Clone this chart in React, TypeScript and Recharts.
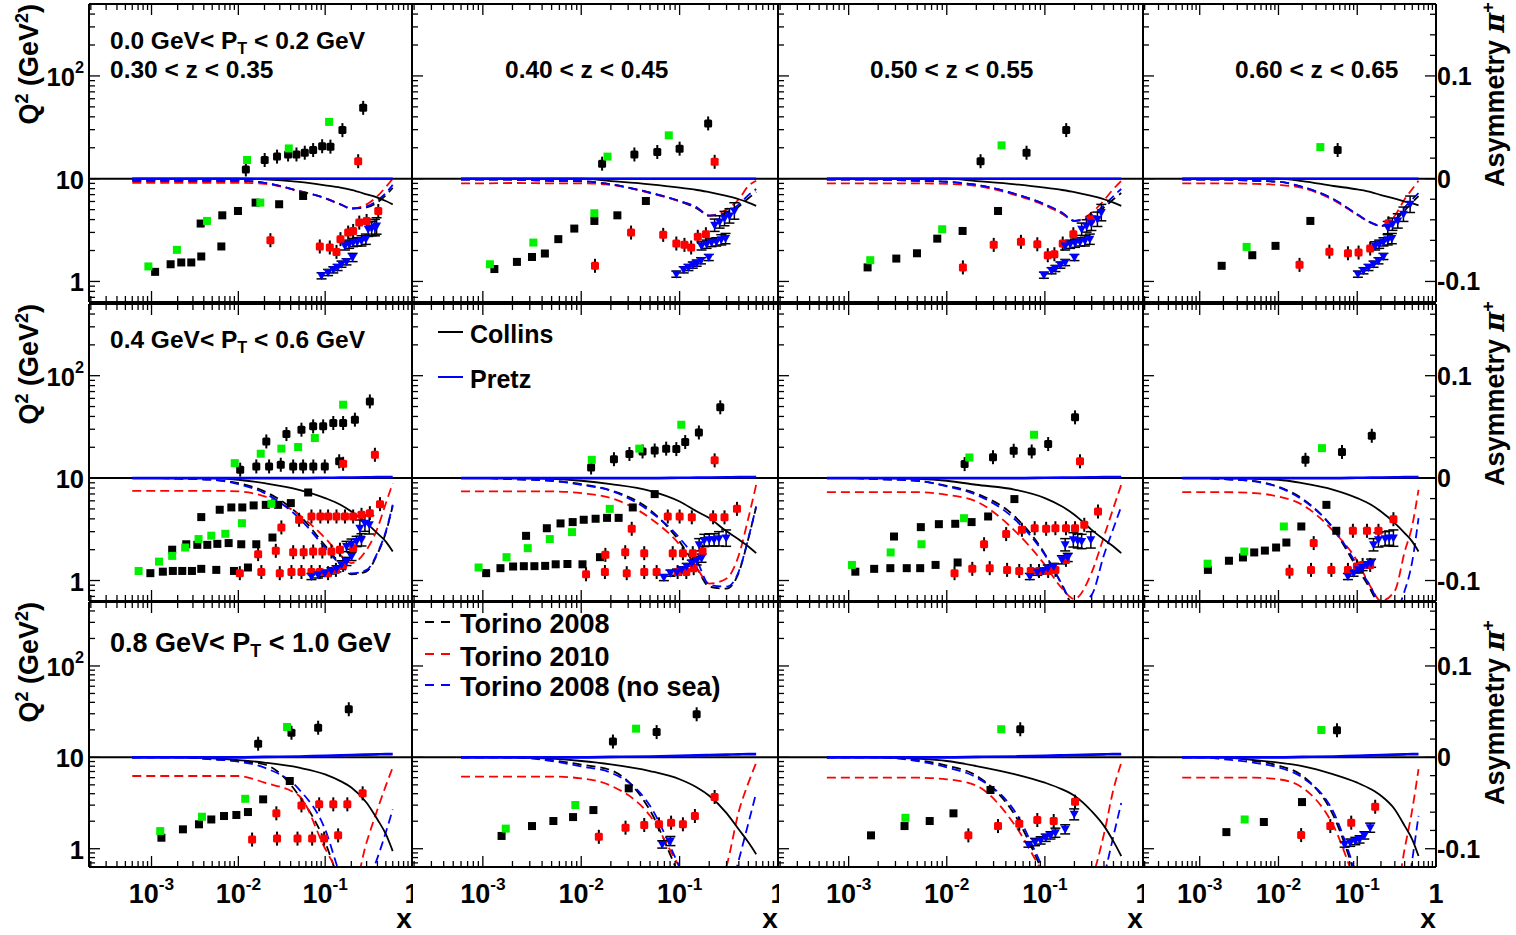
import React from "react";
import {
  ComposedChart,
  ErrorBar,
  Line,
  ReferenceLine,
  Scatter,
  XAxis,
  YAxis,
} from "recharts";

const FONT = "'Liberation Sans', Arial, Helvetica, sans-serif";

// shared ranges: log x, log Q² (left) and linear asymmetry (right) share one frame
const X_DOMAIN = [1.905e-4, 1];
const Q2_DOMAIN = [0.631, 501.2];
const ASYM_DOMAIN = [-0.12, 0.17];

const xTicks = [
  2e-4, 3e-4, 4e-4, 5e-4, 6e-4, 7e-4, 8e-4, 9e-4,
  1e-3, 2e-3, 3e-3, 4e-3, 5e-3, 6e-3, 7e-3, 8e-3, 9e-3,
  0.01, 0.02, 0.03, 0.04, 0.05, 0.06, 0.07, 0.08, 0.09,
  0.1, 0.2, 0.3, 0.4, 0.5, 0.6, 0.7, 0.8, 0.9, 1,
];
const q2Ticks = [0.7, 0.8, 0.9, 1, 2, 3, 4, 5, 6, 7, 8, 9, 10, 20, 30, 40, 50, 60, 70, 80, 90, 100, 200, 300, 400, 500];
const asymTicks = [-0.12, -0.1, -0.08, -0.06, -0.04, -0.02, 0, 0.02, 0.04, 0.06, 0.08, 0.1, 0.12, 0.14, 0.16];

// x grid the model curves are sampled on
const curveX = [6e-4, 1e-3, 2e-3, 5e-3, 0.01, 0.02, 0.05, 0.1, 0.15, 0.2, 0.3, 0.4, 0.5, 0.6];

// ---------- row 1 : 0.0 < PT < 0.2 GeV ----------
const r1c1Black = [[0.0122, 12.3], [0.0201, 15.2], [0.0279, 16.4], [0.0374, 17.2], [0.0467, 17.2], [0.0582, 17.9], [0.0727, 19.0], [0.0923, 20.7], [0.115, 20.5], [0.158, 29.7], [0.274, 48.9], [0.0011, 1.24], [0.00166, 1.47], [0.0022, 1.53], [0.00287, 1.53], [0.00374, 1.75], [0.00368, 3.66], [0.00637, 2.19], [0.00653, 4.4], [0.0099, 4.85], [0.0158, 5.85], [0.0295, 5.64], [0.0557, 6.79]];
const r1c1Green = [[0.0126, 15.2], [0.0381, 19.7], [0.111, 35.7], [0.00092, 1.4], [0.00196, 2.03], [0.00435, 3.88], [0.0179, 5.85]];
const r1c1Red = [[0.24, 14.8], [0.0234, 2.52], [0.0867, 2.19], [0.113, 2.14], [0.135, 1.94], [0.15, 2.58], [0.184, 2.99], [0.21, 3.1], [0.247, 3.74], [0.3, 3.88], [0.409, 4.85]];
const r1c1Blue = [[0.0908, -0.0945, 0.003], [0.108, -0.0913, 0.003], [0.124, -0.0887, 0.003], [0.139, -0.0864, 0.003], [0.154, -0.0832, 0.003], [0.176, -0.0809, 0.003], [0.207, -0.0767, 0.004], [0.169, -0.0654, 0.004], [0.189, -0.0638, 0.004], [0.21, -0.0621, 0.004], [0.234, -0.0615, 0.004], [0.262, -0.0605, 0.005], [0.294, -0.0589, 0.005], [0.313, -0.0492, 0.007], [0.343, -0.0485, 0.007], [0.374, -0.0476, 0.008], [0.391, -0.046, 0.008]];

const r1c2Black = [[0.0163, 14.0], [0.0347, 17.2], [0.0593, 18.2], [0.1, 19.6], [0.195, 34.5], [0.00131, 1.32], [0.00222, 1.55], [0.00316, 1.73], [0.00427, 1.87], [0.00585, 2.58], [0.0085, 3.27], [0.0136, 3.88], [0.0233, 4.4], [0.0454, 6.07]];
const r1c2Green = [[0.0185, 16.4], [0.0776, 26.4], [0.00118, 1.47], [0.00326, 2.39], [0.0136, 4.61]];
const r1c2Red = [[0.227, 14.6], [0.0138, 1.42], [0.0321, 2.99], [0.0681, 2.84], [0.0926, 2.34], [0.112, 2.27], [0.131, 2.14], [0.153, 2.72], [0.185, 2.88]];
const r1c2Blue = [[0.0926, -0.0929, 0.003], [0.11, -0.0887, 0.003], [0.123, -0.0864, 0.003], [0.136, -0.0841, 0.003], [0.149, -0.0822, 0.003], [0.165, -0.0799, 0.003], [0.198, -0.0767, 0.003], [0.167, -0.0654, 0.004], [0.188, -0.0638, 0.004], [0.211, -0.0621, 0.004], [0.236, -0.0615, 0.004], [0.265, -0.0595, 0.005], [0.293, -0.0583, 0.005], [0.227, -0.0453, 0.006], [0.255, -0.0421, 0.006], [0.286, -0.0388, 0.007], [0.321, -0.0362, 0.007], [0.36, -0.0314, 0.008]];

const r1c3Black = [[0.0221, 14.8], [0.065, 17.9], [0.165, 29.7], [0.00156, 1.37], [0.00306, 1.67], [0.00497, 1.88], [0.008, 2.61], [0.0145, 3.1], [0.0333, 4.85]];
const r1c3Green = [[0.0362, 21.1], [0.00166, 1.61], [0.00898, 3.22]];
const r1c3Red = [[0.0146, 1.37], [0.0301, 2.27], [0.057, 2.43], [0.0837, 2.3], [0.107, 1.8], [0.125, 1.84], [0.152, 2.34], [0.195, 2.88], [0.294, 4.03]];
const r1c3Blue = [[0.0977, -0.0939, 0.003], [0.117, -0.0896, 0.003], [0.128, -0.0874, 0.003], [0.144, -0.0841, 0.003], [0.161, -0.0816, 0.003], [0.2, -0.0767, 0.003], [0.161, -0.0654, 0.004], [0.181, -0.0638, 0.004], [0.203, -0.0628, 0.004], [0.228, -0.0615, 0.004], [0.256, -0.0605, 0.005], [0.287, -0.0589, 0.005], [0.237, -0.0492, 0.006], [0.266, -0.046, 0.006], [0.298, -0.0434, 0.007], [0.343, -0.0395, 0.007], [0.376, -0.033, 0.008]];

const r1c4Black = [[0.0564, 19.0], [0.0019, 1.42], [0.00465, 1.8], [0.00917, 2.22], [0.0254, 3.88]];
const r1c4Green = [[0.034, 20.3], [0.00394, 2.17]];
const r1c4Red = [[0.0185, 1.45], [0.0443, 1.95], [0.0762, 1.88], [0.104, 1.91], [0.146, 2.09], [0.249, 3.68]];
const r1c4Blue = [[0.102, -0.0929, 0.003], [0.12, -0.0896, 0.003], [0.139, -0.0864, 0.003], [0.161, -0.0832, 0.003], [0.186, -0.0799, 0.003], [0.215, -0.0757, 0.003], [0.169, -0.0654, 0.004], [0.19, -0.0638, 0.004], [0.215, -0.0615, 0.004], [0.244, -0.0595, 0.005], [0.275, -0.0583, 0.005], [0.244, -0.0476, 0.006], [0.28, -0.0443, 0.006], [0.327, -0.0411, 0.007], [0.386, -0.0346, 0.007], [0.469, -0.0249, 0.008]];

// ---------- row 2 : 0.4 < PT < 0.6 GeV ----------
const r2c1Black = [[0.0105, 12.1], [0.0161, 13.0], [0.021, 22.8], [0.0226, 13.0], [0.0308, 13.5], [0.0358, 26.9], [0.0428, 13.0], [0.0533, 29.7], [0.0557, 13.0], [0.0727, 32.0], [0.073, 13.0], [0.0948, 32.0], [0.099, 13.0], [0.124, 34.5], [0.161, 34.5], [0.145, 14.6], [0.22, 37.2], [0.327, 56.1], [0.00097, 1.18], [0.00135, 1.22], [0.00176, 1.24], [0.00226, 1.24], [0.00292, 1.24], [0.00374, 1.3], [0.00557, 1.27], [0.0089, 1.24], [0.0129, 1.34], [0.00173, 2.0], [0.00251, 2.26], [0.00337, 2.23], [0.00374, 4.16], [0.00439, 2.23], [0.00573, 2.28], [0.0061, 4.91], [0.00773, 2.32], [0.0083, 5.17], [0.0108, 2.26], [0.0111, 5.17], [0.0161, 2.26], [0.015, 5.41], [0.0207, 5.48], [0.0287, 5.48], [0.0247, 2.63], [0.0402, 5.7], [0.0637, 7.24]];
const r2c1Green = [[0.00908, 14.0], [0.0181, 17.3], [0.0313, 19.4], [0.0488, 20.1], [0.076, 24.6], [0.161, 52.1], [0.00071, 1.24], [0.00122, 1.53], [0.00173, 1.74], [0.00244, 2.1], [0.00348, 2.54], [0.00488, 2.74], [0.00708, 2.86], [0.011, 3.63], [0.024, 5.61]];
const r2c1Red = [[0.161, 13.8], [0.374, 16.9], [0.0104, 1.18], [0.0184, 1.21], [0.0169, 1.81], [0.0313, 3.3], [0.027, 1.95], [0.03, 1.18], [0.0428, 1.89], [0.0409, 1.21], [0.0501, 3.92], [0.0533, 1.21], [0.0565, 1.89], [0.0695, 1.21], [0.0695, 4.22], [0.0727, 1.92], [0.0867, 1.21], [0.088, 4.22], [0.0928, 1.92], [0.108, 1.18], [0.108, 4.22], [0.118, 1.92], [0.133, 1.27], [0.135, 4.22], [0.148, 2.0], [0.161, 1.42], [0.169, 4.22], [0.21, 2.07], [0.21, 4.22], [0.262, 4.38], [0.327, 4.55], [0.428, 5.57]];
const r2c1Blue = [[0.0695, -0.0961, 0.003], [0.083, -0.0945, 0.003], [0.099, -0.0928, 0.003], [0.118, -0.0906, 0.003], [0.135, -0.0886, 0.003], [0.154, -0.0847, 0.004], [0.176, -0.0814, 0.004], [0.201, -0.0765, 0.004], [0.176, -0.0668, 0.005], [0.201, -0.0645, 0.005], [0.23, -0.0619, 0.005], [0.262, -0.0603, 0.006], [0.251, -0.0489, 0.008], [0.287, -0.044, 0.008], [0.322, -0.0456, 0.009]];

const r2c2Black = [[0.0126, 12.7], [0.0215, 15.3], [0.0309, 17.2], [0.042, 18.2], [0.0558, 18.6], [0.073, 19.4], [0.0926, 19.2], [0.114, 22.5], [0.157, 27.9], [0.259, 49.1], [0.00108, 1.18], [0.00151, 1.32], [0.00203, 1.37], [0.00261, 1.38], [0.00275, 2.73], [0.00334, 1.38], [0.0043, 1.39], [0.00447, 3.24], [0.0055, 1.44], [0.00616, 3.61], [0.00818, 3.72], [0.00724, 1.45], [0.0103, 1.44], [0.0106, 3.92], [0.014, 4.01], [0.0155, 1.69], [0.0183, 4.09], [0.024, 4.09], [0.0334, 5.17], [0.0558, 6.98]];
const r2c2Green = [[0.0128, 15.1], [0.0389, 19.4], [0.104, 33.2], [0.000905, 1.34], [0.00174, 1.69], [0.00286, 2.07], [0.00479, 2.54], [0.00807, 2.97], [0.0195, 5.01]];
const r2c2Red = [[0.227, 14.9], [0.0112, 1.15], [0.0174, 1.21], [0.0176, 1.78], [0.029, 1.18], [0.028, 1.89], [0.0326, 3.2], [0.0437, 1.21], [0.0437, 1.85], [0.0584, 1.21], [0.0758, 4.22], [0.0851, 1.85], [0.0955, 1.21], [0.1, 4.22], [0.108, 1.85], [0.117, 1.21], [0.133, 4.14], [0.136, 1.85], [0.139, 1.32], [0.171, 1.92], [0.219, 4.14], [0.286, 4.14], [0.383, 5.01]];
const r2c2Blue = [[0.0692, -0.0971, 0.003], [0.0807, -0.0928, 0.003], [0.094, -0.0919, 0.003], [0.105, -0.0896, 0.003], [0.118, -0.0863, 0.003], [0.133, -0.0831, 0.003], [0.149, -0.0808, 0.004], [0.167, -0.0782, 0.004], [0.158, -0.0651, 0.006], [0.178, -0.0609, 0.006], [0.2, -0.0603, 0.006], [0.224, -0.0603, 0.006], [0.251, -0.0593, 0.007], [0.297, -0.0586, 0.008]];

const r2c3Black = [[0.0152, 13.7], [0.0296, 16.0], [0.0481, 18.5], [0.0734, 18.2], [0.108, 21.5], [0.203, 39.2], [0.00117, 1.22], [0.00182, 1.3], [0.00266, 1.32], [0.0029, 2.69], [0.00391, 1.32], [0.00536, 1.32], [0.00544, 3.32], [0.00769, 1.42], [0.00831, 3.55], [0.0122, 3.58], [0.0129, 1.5], [0.0179, 3.72], [0.0264, 4.22], [0.0489, 6.24]];
const r2c3Green = [[0.017, 15.9], [0.0776, 26.5], [0.00108, 1.42], [0.00268, 1.88], [0.00552, 2.26], [0.015, 4.06]];
const r2c3Red = [[0.228, 14.6], [0.012, 1.18], [0.0182, 1.3], [0.0274, 1.32], [0.024, 2.26], [0.0403, 2.84], [0.0412, 1.27], [0.0548, 1.24], [0.0583, 3.13], [0.0718, 1.24], [0.0787, 3.24], [0.0871, 1.24], [0.103, 3.2], [0.108, 1.24], [0.128, 3.24], [0.128, 1.27], [0.164, 3.24], [0.164, 1.59], [0.203, 3.24], [0.252, 3.5], [0.348, 4.72]];
const r2c3Blue = [[0.0702, -0.0961, 0.003], [0.0837, -0.0919, 0.003], [0.0955, -0.0906, 0.003], [0.107, -0.0879, 0.003], [0.123, -0.0863, 0.003], [0.149, -0.0798, 0.004], [0.171, -0.0775, 0.004], [0.161, -0.0651, 0.006], [0.195, -0.0603, 0.007], [0.216, -0.0612, 0.007], [0.237, -0.0619, 0.007], [0.294, -0.0603, 0.008]];

const r2c4Black = [[0.022, 15.1], [0.064, 18.0], [0.153, 25.9], [0.00127, 1.27], [0.00235, 1.56], [0.00354, 1.68], [0.00492, 1.88], [0.00672, 1.96], [0.00933, 2.1], [0.0126, 2.35], [0.0195, 3.37], [0.0406, 5.48], [0.0542, 3.06]];
const r2c4Green = [[0.0357, 19.6], [0.00126, 1.46], [0.00368, 1.92], [0.0117, 3.37]];
const r2c4Red = [[0.0138, 1.22], [0.0259, 1.27], [0.0469, 1.27], [0.028, 2.32], [0.0762, 1.27], [0.0881, 3.06], [0.099, 1.37], [0.133, 3.06], [0.117, 1.42], [0.146, 1.42], [0.186, 3.06], [0.288, 3.97]];
const r2c4Blue = [[0.0762, -0.0961, 0.003], [0.0899, -0.0928, 0.003], [0.104, -0.0896, 0.003], [0.117, -0.0873, 0.003], [0.133, -0.0847, 0.003], [0.15, -0.0831, 0.004], [0.161, -0.0651, 0.006], [0.186, -0.0603, 0.007], [0.226, -0.0593, 0.007], [0.254, -0.0586, 0.007], [0.288, -0.0586, 0.008]];

// ---------- row 3 : 0.8 < PT < 1.0 GeV ----------
const r3c1Black = [[0.0169, 14.1], [0.0409, 18.6], [0.083, 21.1], [0.187, 33.6], [0.0013, 1.32], [0.0023, 1.63], [0.00352, 1.85], [0.00488, 2.09], [0.00684, 2.28], [0.00949, 2.34], [0.0129, 2.52], [0.0193, 3.47], [0.0391, 5.51]];
const r3c1Green = [[0.0364, 21.5], [0.00126, 1.56], [0.00381, 2.24], [0.012, 3.52]];
const r3c1Red = [[0.0144, 1.26], [0.0274, 2.44], [0.0279, 1.29], [0.048, 1.29], [0.0533, 2.98], [0.0708, 1.29], [0.0853, 3.06], [0.0973, 1.29], [0.124, 3.06], [0.141, 1.4], [0.18, 3.06], [0.27, 4.04]];
const r3c1Blue: number[][] = [];

const r3c2Black = [[0.021, 14.9], [0.0584, 18.9], [0.149, 29.6], [0.00155, 1.38], [0.00316, 1.77], [0.00521, 2.01], [0.00826, 2.22], [0.0133, 2.65], [0.0304, 4.58]];
const r3c2Green = [[0.0361, 20.6], [0.00171, 1.66], [0.00871, 3.01]];
const r3c2Red = [[0.0151, 1.35], [0.0282, 1.7], [0.0437, 1.82], [0.0617, 1.85], [0.0819, 1.93], [0.108, 1.85], [0.143, 2.28], [0.227, 3.68]];
const r3c2Blue = [[0.0666, -0.0953, 0.004], [0.0807, -0.0916, 0.005]];

const r3c3Black = [[0.0561, 20.3], [0.00169, 1.4], [0.00371, 1.77], [0.0067, 2.01], [0.0117, 2.44], [0.0279, 4.39]];
const r3c3Green = [[0.0359, 20.3], [0.00379, 2.18]];
const r3c3Red = [[0.0166, 1.4], [0.0333, 1.77], [0.0548, 1.88], [0.0837, 2.06], [0.123, 2.01], [0.203, 3.27]];
const r3c3Blue = [[0.068, -0.0953, 0.003], [0.0794, -0.0927, 0.004], [0.0905, -0.0909, 0.004], [0.102, -0.088, 0.004], [0.114, -0.0854, 0.004], [0.128, -0.0825, 0.005], [0.161, -0.0788, 0.005], [0.199, -0.0624, 0.006]];

const r3c4Black = [[0.0553, 19.8], [0.00218, 1.52], [0.00652, 1.96], [0.0199, 3.24]];
const r3c4Green = [[0.035, 19.9], [0.00372, 2.09]];
const r3c4Red = [[0.0194, 1.41], [0.0455, 1.77], [0.0839, 1.93], [0.169, 2.88]];
const r3c4Blue = [[0.0692, -0.0953, 0.003], [0.0815, -0.0934, 0.004], [0.0944, -0.0916, 0.004], [0.107, -0.0898, 0.004], [0.123, -0.0854, 0.004], [0.146, -0.077, 0.005]];

// ---------- model curves (asymmetry, on curveX) ----------
const pretzRow1 = [0, 0, 0, 0, 0, 0, 0, 0, 0, 0, 0, 0, 0, 0];
const pretzRow2 = [0, 0, 0, 0, 0, 0, 0, 0.0003, 0.0005, 0.0006, 0.0008, 0.001, 0.001, 0.001];
const pretzRow3 = [0, 0, 0, 0, 0, 0.0005, 0.001, 0.0018, 0.0022, 0.0025, 0.003, 0.0033, 0.0035, 0.0035];

const r1c1Collins = [0, 0, 0, 0, 0, -0.0006, -0.0032, -0.0065, -0.0087, -0.011, -0.0152, -0.0184, -0.0217, -0.025];
const r1c1T08 = [-0.002, -0.002, -0.002, -0.002, -0.002, -0.004, -0.012, -0.019, -0.025, -0.029, -0.028, -0.023, -0.016, -0.009];
const r1c1T10 = [-0.004, -0.004, -0.004, -0.004, -0.004, -0.005, -0.012, -0.019, -0.025, -0.029, -0.025, -0.017, -0.008, 0];
const r1c1NoSea = [-0.002, -0.002, -0.002, -0.002, -0.002, -0.004, -0.012, -0.019, -0.025, -0.029, -0.027, -0.021, -0.014, -0.006];

const r1c2Collins = [0, 0, 0, 0, 0, -0.0023, -0.0055, -0.0087, -0.011, -0.013, -0.0168, -0.02, -0.0233, -0.0265];
const r1c2T08 = [-0.001, -0.001, -0.001, -0.002, -0.0025, -0.0055, -0.0136, -0.022, -0.029, -0.036, -0.034, -0.027, -0.019, -0.013];
const r1c2T10 = [-0.0045, -0.0045, -0.0042, -0.0045, -0.0045, -0.006, -0.014, -0.022, -0.028, -0.036, -0.03, -0.02, -0.007, -0.002];
const r1c2NoSea = [-0.001, -0.001, -0.001, -0.002, -0.0023, -0.0055, -0.0136, -0.0217, -0.028, -0.036, -0.033, -0.025, -0.016, -0.01];

const r1c3Collins = [0, 0, 0, 0, 0, -0.0023, -0.0055, -0.0087, -0.011, -0.013, -0.0168, -0.02, -0.0233, -0.0265];
const r1c3T08 = [-0.001, -0.001, -0.001, -0.002, -0.003, -0.006, -0.015, -0.025, -0.034, -0.041, -0.037, -0.028, -0.02, -0.014];
const r1c3T10 = [-0.0045, -0.0045, -0.0045, -0.0045, -0.005, -0.007, -0.016, -0.026, -0.034, -0.041, -0.033, -0.021, -0.01, -0.002];
const r1c3NoSea = [-0.001, -0.001, -0.001, -0.002, -0.003, -0.006, -0.015, -0.025, -0.033, -0.041, -0.036, -0.026, -0.017, -0.01];

const r1c4Collins = [0, 0, 0, 0, 0, -0.0023, -0.0071, -0.0104, -0.013, -0.016, -0.0194, -0.0223, -0.024, -0.026];
const r1c4T08 = [-0.001, -0.001, -0.001, -0.002, -0.003, -0.008, -0.02, -0.035, -0.043, -0.046, -0.041, -0.031, -0.023, -0.017];
const r1c4T10 = [-0.0045, -0.0045, -0.0045, -0.005, -0.006, -0.009, -0.021, -0.035, -0.043, -0.046, -0.036, -0.02, -0.01, -0.002];
const r1c4NoSea = [-0.001, -0.001, -0.001, -0.002, -0.003, -0.008, -0.02, -0.0346, -0.0427, -0.046, -0.04, -0.028, -0.02, -0.014];

const r2c1Collins = [0, 0, 0, 0, -0.0016, -0.005, -0.0114, -0.0195, -0.026, -0.0326, -0.044, -0.054, -0.062, -0.0717];
const r2c1T08 = [0, 0, -0.0005, -0.0016, -0.005, -0.013, -0.036, -0.066, -0.084, -0.094, -0.091, -0.074, -0.053, -0.027];
const r2c1T10 = [-0.0124, -0.0124, -0.0124, -0.0124, -0.013, -0.0179, -0.0358, -0.0586, -0.075, -0.083, -0.07, -0.049, -0.0244, -0.005];
const r2c1NoSea = [0, 0, -0.0005, -0.0016, -0.0059, -0.0147, -0.039, -0.068, -0.0847, -0.093, -0.0896, -0.073, -0.052, -0.026];

const r2c2Collins = [0, 0, 0, -0.0007, -0.0026, -0.0059, -0.0124, -0.0228, -0.0326, -0.039, -0.052, -0.06, -0.0668, -0.0733];
const r2c2T08 = [0, 0, -0.001, -0.0026, -0.006, -0.012, -0.031, -0.062, -0.088, -0.106, -0.108, -0.092, -0.059, -0.028];
const r2c2T10 = [-0.013, -0.013, -0.013, -0.013, -0.0147, -0.0195, -0.039, -0.065, -0.088, -0.103, -0.098, -0.075, -0.039, -0.0065];
const r2c2NoSea = [0, 0, -0.001, -0.0026, -0.0065, -0.0124, -0.0326, -0.0586, -0.081, -0.104, -0.106, -0.091, -0.0586, -0.0277];

const r2c3Collins = [0, 0, 0, -0.0007, -0.0026, -0.0065, -0.0114, -0.0195, -0.0277, -0.0358, -0.0505, -0.06, -0.0668, -0.0733];
const r2c3T08 = [0, 0, -0.001, -0.0026, -0.0075, -0.015, -0.038, -0.074, -0.105, -0.13, -0.16, -0.18, -0.2, -0.2];
const r2c3T10 = [-0.0137, -0.0137, -0.0137, -0.0137, -0.0163, -0.0228, -0.052, -0.0847, -0.108, -0.118, -0.092, -0.057, -0.029, -0.0065];
const r2c3NoSea = [0, 0, -0.001, -0.0026, -0.0081, -0.0163, -0.0407, -0.075, -0.104, -0.125, -0.114, -0.075, -0.049, -0.0277];

const r2c4Collins = [0, 0, 0, -0.0007, -0.0016, -0.0049, -0.0114, -0.0195, -0.026, -0.0326, -0.044, -0.0537, -0.062, -0.0717];
const r2c4T08 = [0, 0, -0.001, -0.003, -0.0085, -0.02, -0.05, -0.088, -0.11, -0.13, -0.16, -0.18, -0.2, -0.2];
const r2c4T10 = [-0.0137, -0.0137, -0.0137, -0.0147, -0.018, -0.026, -0.052, -0.081, -0.107, -0.12, -0.11, -0.072, -0.046, -0.0114];
const r2c4NoSea = [0, 0, -0.001, -0.0033, -0.009, -0.021, -0.049, -0.085, -0.107, -0.125, -0.13, -0.11, -0.081, -0.039];

const r3c1Collins = [0, 0.0005, 0.0003, -0.001, -0.003, -0.0058, -0.0113, -0.0186, -0.026, -0.033, -0.0496, -0.068, -0.084, -0.1026];
const r3c1T08 = [0, 0, 0, -0.002, -0.004, -0.0077, -0.042, -0.093, -0.14, -0.17, -0.18, -0.18, -0.18, -0.18];
const r3c1T10 = [-0.0204, -0.0204, -0.0204, -0.0204, -0.0204, -0.0277, -0.042, -0.1, -0.13, -0.15, -0.093, -0.057, -0.031, -0.011];
const r3c1NoSea = [0, 0, 0, -0.0022, -0.0047, -0.0113, -0.035, -0.079, -0.13, -0.16, -0.14, -0.11, -0.082, -0.057];

const r3c2Collins = [0, 0.0005, 0, -0.0015, -0.004, -0.0077, -0.015, -0.024, -0.033, -0.042, -0.061, -0.079, -0.093, -0.106];
const r3c2T08 = [0, 0, 0, -0.003, -0.008, -0.014, -0.058, -0.13, -0.17, -0.19, -0.2, -0.2, -0.2, -0.2];
const r3c2T10 = [-0.021, -0.021, -0.021, -0.021, -0.023, -0.031, -0.064, -0.12, -0.15, -0.16, -0.119, -0.059, -0.028, -0.006];
const r3c2NoSea = [0, 0, 0, -0.004, -0.01, -0.0168, -0.053, -0.12, -0.16, -0.18, -0.16, -0.112, -0.072, -0.039];

const r3c3Collins = [0, 0.0005, 0, -0.0015, -0.004, -0.0095, -0.0186, -0.0277, -0.035, -0.042, -0.059, -0.075, -0.092, -0.108];
const r3c3T08 = [0, 0, 0, -0.003, -0.009, -0.02, -0.064, -0.13, -0.17, -0.19, -0.2, -0.2, -0.2, -0.2];
const r3c3T10 = [-0.0223, -0.0223, -0.0223, -0.0223, -0.024, -0.031, -0.075, -0.13, -0.16, -0.17, -0.134, -0.084, -0.035, -0.006];
const r3c3NoSea = [0, 0, 0, -0.004, -0.011, -0.022, -0.06, -0.125, -0.16, -0.18, -0.17, -0.13, -0.086, -0.05];

const r3c4Collins = [0, 0.0005, 0, -0.003, -0.0058, -0.0095, -0.0186, -0.0277, -0.035, -0.042, -0.057, -0.075, -0.09, -0.108];
const r3c4T08 = [0, 0, 0, -0.004, -0.009, -0.02, -0.064, -0.135, -0.18, -0.2, -0.2, -0.2, -0.2, -0.2];
const r3c4T10 = [-0.0223, -0.0223, -0.0223, -0.0223, -0.024, -0.033, -0.075, -0.14, -0.17, -0.18, -0.16, -0.1, -0.057, -0.013];
const r3c4NoSea = [0, 0, -0.002, -0.006, -0.011, -0.022, -0.06, -0.13, -0.17, -0.2, -0.2, -0.17, -0.112, -0.064];

// ---------- layout of the 3 x 4 pads (pixels); every axis box is 1px ----------
const COLS = [
  { left: 0, width: 413, ml: 88, mr: 0 },
  { left: 411, width: 368, ml: 0, mr: 0 },
  { left: 777, width: 367, ml: 0, mr: 0 },
  { left: 1142, width: 374, ml: 0, mr: 79 },
];
const ROWS = [
  { top: 0, height: 303, mt: 3, mb: 0 },
  { top: 302, height: 300, mt: 1, mb: 0 },
  { top: 601, height: 334, mt: 0, mb: 67 },
];

const pts = (arr: number[][]) => arr.map(([x, q]) => ({ x, q }));
const asymPts = (arr: number[][]) => arr.map(([x, a, e]) => ({ x, a, e }));
const curve = (vals: number[]) => curveX.map((x, i) => ({ x, a: vals[i] }));

const panels = [
  [r1c1Black, r1c1Green, r1c1Red, r1c1Blue, r1c1Collins, r1c1T08, r1c1T10, r1c1NoSea, pretzRow1],
  [r1c2Black, r1c2Green, r1c2Red, r1c2Blue, r1c2Collins, r1c2T08, r1c2T10, r1c2NoSea, pretzRow1],
  [r1c3Black, r1c3Green, r1c3Red, r1c3Blue, r1c3Collins, r1c3T08, r1c3T10, r1c3NoSea, pretzRow1],
  [r1c4Black, r1c4Green, r1c4Red, r1c4Blue, r1c4Collins, r1c4T08, r1c4T10, r1c4NoSea, pretzRow1],
  [r2c1Black, r2c1Green, r2c1Red, r2c1Blue, r2c1Collins, r2c1T08, r2c1T10, r2c1NoSea, pretzRow2],
  [r2c2Black, r2c2Green, r2c2Red, r2c2Blue, r2c2Collins, r2c2T08, r2c2T10, r2c2NoSea, pretzRow2],
  [r2c3Black, r2c3Green, r2c3Red, r2c3Blue, r2c3Collins, r2c3T08, r2c3T10, r2c3NoSea, pretzRow2],
  [r2c4Black, r2c4Green, r2c4Red, r2c4Blue, r2c4Collins, r2c4T08, r2c4T10, r2c4NoSea, pretzRow2],
  [r3c1Black, r3c1Green, r3c1Red, r3c1Blue, r3c1Collins, r3c1T08, r3c1T10, r3c1NoSea, pretzRow3],
  [r3c2Black, r3c2Green, r3c2Red, r3c2Blue, r3c2Collins, r3c2T08, r3c2T10, r3c2NoSea, pretzRow3],
  [r3c3Black, r3c3Green, r3c3Red, r3c3Blue, r3c3Collins, r3c3T08, r3c3T10, r3c3NoSea, pretzRow3],
  [r3c4Black, r3c4Green, r3c4Red, r3c4Blue, r3c4Collins, r3c4T08, r3c4T10, r3c4NoSea, pretzRow3],
].map(([black, green, red, blue, collins, t08, t10, nosea, pretz]) => ({
  black: pts(black as number[][]),
  green: pts(green as number[][]),
  red: pts(red as number[][]),
  blue: asymPts(blue as number[][]),
  collins: curve(collins as number[]),
  t08: curve(t08 as number[]),
  t10: curve(t10 as number[]),
  nosea: curve(nosea as number[]),
  pretz: curve(pretz as number[]),
}));

const isDecade = (v: number) => {
  const l = Math.log10(v);
  return Math.abs(l - Math.round(l)) < 1e-6;
};

function PowerText({ x, y, v, size, anchor }: any) {
  const e = Math.round(Math.log10(v));
  const common = { x, y, textAnchor: anchor, fontSize: size, fontWeight: 700, fontFamily: FONT, fill: "#000" };
  if (e === 0) return <text {...common}>1</text>;
  if (e === 1) return <text {...common}>10</text>;
  return (
    <text {...common}>
      10
      <tspan dy={-size * 0.5} fontSize={size * 0.64}>
        {String(e)}
      </tspan>
    </text>
  );
}

const xTick = (side: "top" | "bottom", labelled: boolean) => (p: any) => {
  const v = p.payload.value;
  const major = isDecade(v);
  const len = major ? 11 : 6;
  const dir = side === "bottom" ? -1 : 1;
  return (
    <g>
      <line x1={p.x} x2={p.x} y1={p.y} y2={p.y + dir * len} stroke="#000" strokeWidth={1.3} />
      {labelled && major && <PowerText x={p.x} y={p.y + 36} v={v} size={27} anchor="middle" />}
    </g>
  );
};

const q2Tick = (labelled: boolean) => (p: any) => {
  const v = p.payload.value;
  const major = isDecade(v);
  return (
    <g>
      <line x1={p.x} x2={p.x + (major ? 11 : 6)} y1={p.y} y2={p.y} stroke="#000" strokeWidth={1.3} />
      {labelled && major && <PowerText x={p.x - 5} y={p.y + 10} v={v} size={25.5} anchor="end" />}
    </g>
  );
};

const asymTick = (shown: boolean) => (p: any) => {
  if (!shown) return <g />;
  const v = p.payload.value;
  const major = Math.abs(v * 10 - Math.round(v * 10)) < 1e-6;
  return (
    <g>
      <line x1={p.x} x2={p.x - (major ? 11 : 6)} y1={p.y} y2={p.y} stroke="#000" strokeWidth={1.3} />
      {major && (
        <text x={p.x + 1} y={p.y + 9} fontSize={25} fontWeight={700} fontFamily={FONT} fill="#000">
          {v === 0 ? "0" : v.toFixed(1)}
        </text>
      )}
    </g>
  );
};

const squareShape = (color: string, bars: "all" | "upper" | "none") => (p: any) => {
  const withBar = bars === "all" || (bars === "upper" && p.payload.q > 10);
  return (
    <g>
      {withBar && <line x1={p.cx} x2={p.cx} y1={p.cy - 7} y2={p.cy + 7} stroke="#000" strokeWidth={2} />}
      <rect x={p.cx - 4} y={p.cy - 4} width={8} height={8} rx={withBar ? 1.5 : 0} fill={color} />
    </g>
  );
};

const triangleShape = (p: any) => (
  <path d={`M${p.cx - 4.5},${p.cy - 3.5}L${p.cx + 4.5},${p.cy - 3.5}L${p.cx},${p.cy + 4.5}Z`} fill="#0000ff" />
);

const frame = { stroke: "#000", strokeWidth: 2 };
const dash = "9 5";

function Pad({ row, col }: { row: number; col: number }) {
  const c = COLS[col];
  const r = ROWS[row];
  const d = panels[row * 4 + col];
  return (
    <div style={{ position: "absolute", left: c.left, top: r.top, width: c.width, height: r.height }}>
      <ComposedChart
        width={c.width}
        height={r.height}
        margin={{ top: r.mt, right: c.mr, bottom: r.mb, left: c.ml }}
      >
        <XAxis
          xAxisId="b"
          type="number"
          dataKey="x"
          scale="log"
          domain={X_DOMAIN}
          allowDataOverflow
          ticks={xTicks}
          interval={0}
          height={1}
          tickSize={0}
          tickMargin={0}
          tickLine={false}
          axisLine={frame}
          tick={xTick("bottom", row === 2)}
        />
        <XAxis
          xAxisId="t"
          orientation="top"
          type="number"
          dataKey="x"
          scale="log"
          domain={X_DOMAIN}
          allowDataOverflow
          ticks={xTicks}
          interval={0}
          height={1}
          tickSize={0}
          tickMargin={0}
          tickLine={false}
          axisLine={frame}
          tick={xTick("top", false)}
        />
        <YAxis
          yAxisId="q"
          type="number"
          dataKey="q"
          scale="log"
          domain={Q2_DOMAIN}
          allowDataOverflow
          ticks={q2Ticks}
          interval={0}
          width={1}
          tickSize={0}
          tickMargin={0}
          tickLine={false}
          axisLine={frame}
          tick={q2Tick(col === 0)}
        />
        <YAxis
          yAxisId="a"
          orientation="right"
          type="number"
          dataKey="a"
          domain={ASYM_DOMAIN}
          allowDataOverflow
          ticks={asymTicks}
          interval={0}
          width={1}
          tickSize={0}
          tickMargin={0}
          tickLine={false}
          axisLine={frame}
          tick={asymTick(col === 3)}
        />
        <ReferenceLine xAxisId="b" yAxisId="a" y={0} stroke="#000" strokeWidth={2} />
        <Line xAxisId="b" yAxisId="a" data={d.t08} dataKey="a" type="monotone" stroke="#000" strokeWidth={1.8} strokeDasharray={dash} dot={false} isAnimationActive={false} />
        <Line xAxisId="b" yAxisId="a" data={d.t10} dataKey="a" type="monotone" stroke="#ff0000" strokeWidth={1.8} strokeDasharray={dash} dot={false} isAnimationActive={false} />
        <Line xAxisId="b" yAxisId="a" data={d.nosea} dataKey="a" type="monotone" stroke="#0000ff" strokeWidth={1.8} strokeDasharray={dash} dot={false} isAnimationActive={false} />
        <Line xAxisId="b" yAxisId="a" data={d.collins} dataKey="a" type="monotone" stroke="#000" strokeWidth={1.8} dot={false} isAnimationActive={false} />
        <Line xAxisId="b" yAxisId="a" data={d.pretz} dataKey="a" type="monotone" stroke="#0000ff" strokeWidth={2.6} dot={false} isAnimationActive={false} />
        <Scatter xAxisId="b" yAxisId="q" data={d.black} shape={squareShape("#000", "upper")} isAnimationActive={false} />
        <Scatter xAxisId="b" yAxisId="q" data={d.red} shape={squareShape("#ff0000", "all")} isAnimationActive={false} />
        <Scatter xAxisId="b" yAxisId="q" data={d.green} shape={squareShape("#00f000", "none")} isAnimationActive={false} />
        <Scatter xAxisId="b" yAxisId="a" data={d.blue} shape={triangleShape} isAnimationActive={false}>
          <ErrorBar dataKey="e" direction="y" width={5} stroke="#000" strokeWidth={1.5} />
        </Scatter>
      </ComposedChart>
    </div>
  );
}

const txt = { fontFamily: FONT, fontWeight: 700, fill: "#000", style: { whiteSpace: "pre" as const } };

function PtTitle({ x, y, lo, hi, size }: any) {
  return (
    <text x={x} y={y} fontSize={size} {...txt}>
      {`${lo} GeV< P`}
      <tspan dy={5} fontSize={size * 0.66}>T</tspan>
      <tspan dy={-5}>{` < ${hi} GeV`}</tspan>
    </text>
  );
}

function Overlay() {
  const rowTops = [4, 304, 602];
  const asymBottoms = [187, 486, 805];
  return (
    <svg width={1516} height={935} style={{ position: "absolute", left: 0, top: 0, pointerEvents: "none" }}>
      <PtTitle x={110} y={49} lo="0.0" hi="0.2" size={24.5} />
      <text x={110} y={78} fontSize={24.5} {...txt}>0.30 &lt; z &lt; 0.35</text>
      <text x={505} y={78} fontSize={24.5} {...txt}>0.40 &lt; z &lt; 0.45</text>
      <text x={870} y={78} fontSize={24.5} {...txt}>0.50 &lt; z &lt; 0.55</text>
      <text x={1235} y={78} fontSize={24.5} {...txt}>0.60 &lt; z &lt; 0.65</text>
      <PtTitle x={110} y={348} lo="0.4" hi="0.6" size={24.5} />
      <PtTitle x={110} y={652} lo="0.8" hi="1.0" size={27} />

      {/* legends */}
      <line x1={438} x2={463} y1={332} y2={332} stroke="#000" strokeWidth={2} />
      <text x={470} y={343} fontSize={25} {...txt}>Collins</text>
      <line x1={438} x2={463} y1={377} y2={377} stroke="#0000ff" strokeWidth={2} />
      <text x={470} y={388} fontSize={25} {...txt}>Pretz</text>
      <line x1={425} x2={453} y1={622} y2={622} stroke="#000" strokeWidth={2} strokeDasharray="9 7" />
      <text x={460} y={633} fontSize={27} {...txt}>Torino 2008</text>
      <line x1={425} x2={453} y1={654} y2={654} stroke="#ff0000" strokeWidth={2} strokeDasharray="9 7" />
      <text x={460} y={666} fontSize={27} {...txt}>Torino 2010</text>
      <line x1={425} x2={453} y1={685} y2={685} stroke="#0000ff" strokeWidth={2} strokeDasharray="9 7" />
      <text x={460} y={696} fontSize={27} {...txt}>Torino 2008 (no sea)</text>

      {/* axis titles */}
      {rowTops.map((t) => (
        <text key={t} transform={`translate(38,${t}) rotate(-90)`} textAnchor="end" fontSize={27} {...txt}>
          Q<tspan dy={-10} fontSize={18}>2</tspan>
          <tspan dy={10}> (GeV</tspan>
          <tspan dy={-10} fontSize={18}>2</tspan>
          <tspan dy={10}>)</tspan>
        </text>
      ))}
      {asymBottoms.map((b) => (
        <text key={b} transform={`translate(1504,${b}) rotate(-90)`} fontSize={27} {...txt}>
          Asymmetry <tspan fontStyle="italic" fontFamily="'DejaVu Serif', serif">π</tspan>
          <tspan dy={-10} fontSize={18}>+</tspan>
        </text>
      ))}
      {[404, 770, 1135, 1428].map((x) => (
        <text key={x} x={x} y={928} textAnchor="middle" fontSize={28} {...txt}>x</text>
      ))}
    </svg>
  );
}

export default function App() {
  return (
    <div style={{ position: "absolute", left: 0, top: 0, width: 1516, height: 935, background: "#fff", overflow: "hidden" }}>
      {[0, 1, 2].map((row) => [0, 1, 2, 3].map((col) => <Pad key={`${row}-${col}`} row={row} col={col} />))}
      <Overlay />
    </div>
  );
}
